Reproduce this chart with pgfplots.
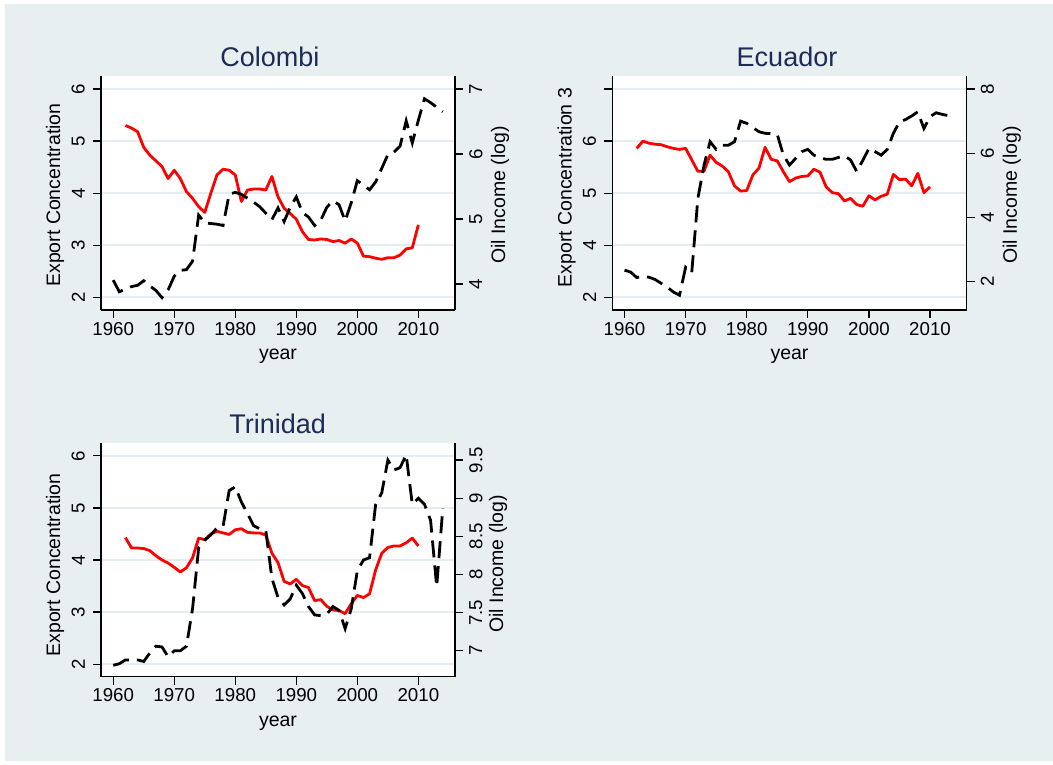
\documentclass[border=0pt]{standalone}
\usepackage{fontspec}
\setmainfont{Liberation Sans}
\usepackage{pgfplots}
\pgfplotsset{compat=1.18}
\definecolor{bgc}{RGB}{232,239,241}
\definecolor{gridc}{RGB}{229,237,240}
\definecolor{ttl}{RGB}{30,43,85}

\pgfplotsset{
  base/.style={scale only axis, width=354bp, height=234bp, xmin=1958, xmax=2016,
    /pgf/number format/assume math mode=true, /pgf/number format/1000 sep={},
    tick align=outside, major tick length=8bp, minor tick num=0,
    every tick/.style={black, line width=1.2bp},
    axis line style={black, line width=1.2bp, -},
    tick label style={font=\fontsize{18.7bp}{21bp}\selectfont},
    label style={font=\fontsize{19.5bp}{22bp}\selectfont}},
  lft/.style={base, axis x line*=bottom, axis y line*=left,
    axis background/.style={fill=white},
    ymajorgrids, major grid style={gridc, line width=2bp},
    xtick={1960,1970,...,2010}, xlabel={year},
    xlabel style={at={(axis description cs:0.5,0)}, anchor=base, yshift=-50bp},
    xticklabel style={anchor=north, inner sep=0pt, yshift=-4bp},
    yticklabel shift=8bp,
    yticklabel style={rotate=90, anchor=south, inner sep=0pt},
    title style={font=\fontsize{27bp}{30bp}\selectfont, text=ttl, anchor=base}},
  rgt/.style={base, axis x line=none, axis y line*=right, ylabel={Oil Income (log)},
    yticklabel shift=6bp,
    yticklabel style={rotate=90, anchor=north, inner sep=0pt}},
  redl/.style={red, line width=2.8bp, line join=round},
  blkl/.style={black, line width=2.8bp, dash pattern=on 17bp off 8bp}
}

\begin{document}
\begin{tikzpicture}
\fill[white] (0,0) rectangle (1053bp,765bp);
\fill[bgc] (5bp,4bp) rectangle (1053bp,761bp);

% Colombi
\begin{axis}[lft, at={(101bp,455bp)}, anchor=south west,
  ymin=1.756, ymax=6.25, ytick={2,3,4,5,6},
  ylabel={Export Concentration},
  ylabel style={at={(axis description cs:-0.130,0.491)}, anchor=center},
  title={Colombi}, title style={at={(axis description cs:0.477,1)}, yshift=3.3bp}]
\addplot[redl] coordinates {(1962,5.30)(1963,5.25)(1964,5.18)(1965,4.88)(1966,4.73)(1967,4.62)(1968,4.51)(1969,4.28)(1970,4.44)(1971,4.28)(1972,4.03)(1973,3.90)(1974,3.74)(1975,3.63)(1976,4.00)(1977,4.35)(1978,4.46)(1979,4.44)(1980,4.35)(1981,3.84)(1982,4.06)(1983,4.08)(1984,4.08)(1985,4.06)(1986,4.32)(1987,3.93)(1988,3.71)(1989,3.61)(1990,3.50)(1991,3.26)(1992,3.11)(1993,3.10)(1994,3.12)(1995,3.11)(1996,3.07)(1997,3.09)(1998,3.04)(1999,3.12)(2000,3.04)(2001,2.79)(2002,2.78)(2003,2.75)(2004,2.73)(2005,2.76)(2006,2.76)(2007,2.81)(2008,2.93)(2009,2.95)(2010,3.39)};
\end{axis}
\begin{axis}[rgt, at={(101bp,455bp)}, anchor=south west,
  ymin=3.6, ymax=7.2, ytick={4,5,6,7},
  ylabel style={at={(axis description cs:1.127,0.492)}, anchor=center}]
\addplot[blkl] coordinates {(1960,4.06)(1961,3.88)(1962,3.92)(1963,3.96)(1964,3.98)(1965,4.05)(1966,3.97)(1967,3.90)(1968,3.79)(1969,3.91)(1970,4.12)(1971,4.21)(1972,4.22)(1973,4.35)(1974,5.06)(1975,4.94)(1976,4.93)(1977,4.92)(1978,4.90)(1979,5.38)(1980,5.41)(1981,5.38)(1982,5.32)(1983,5.26)(1984,5.19)(1985,5.09)(1986,4.99)(1987,5.17)(1988,4.96)(1989,5.18)(1990,5.34)(1991,5.10)(1992,5.03)(1993,4.90)(1994,4.98)(1995,5.18)(1996,5.28)(1997,5.22)(1998,4.97)(1999,5.25)(2000,5.59)(2001,5.52)(2002,5.45)(2003,5.57)(2004,5.78)(2005,5.99)(2006,6.03)(2007,6.12)(2008,6.51)(2009,6.17)(2010,6.52)(2011,6.85)(2012,6.79)(2013,6.72)(2014,6.65)};
\end{axis}

% Ecuador
\begin{axis}[lft, at={(612.3bp,455bp)}, anchor=south west, width=354.4bp,
  ymin=2.756, ymax=7.25, ytick={3,4,5,6,7}, yticklabels={2,4,5,6,{}},
  ylabel={Export Concentration 3},
  ylabel style={at={(axis description cs:-0.129,0.523)}, anchor=center},
  title={Ecuador}, title style={at={(axis description cs:0.493,1)}, yshift=3.3bp}]
\addplot[redl] coordinates {(1962,5.86)(1963,6.00)(1964,5.96)(1965,5.94)(1966,5.93)(1967,5.89)(1968,5.86)(1969,5.84)(1970,5.86)(1971,5.64)(1972,5.42)(1973,5.42)(1974,5.73)(1975,5.59)(1976,5.52)(1977,5.41)(1978,5.14)(1979,5.04)(1980,5.05)(1981,5.35)(1982,5.48)(1983,5.88)(1984,5.65)(1985,5.62)(1986,5.41)(1987,5.22)(1988,5.29)(1989,5.32)(1990,5.33)(1991,5.46)(1992,5.40)(1993,5.12)(1994,5.01)(1995,4.99)(1996,4.85)(1997,4.90)(1998,4.78)(1999,4.75)(2000,4.95)(2001,4.87)(2002,4.94)(2003,4.98)(2004,5.36)(2005,5.26)(2006,5.27)(2007,5.14)(2008,5.38)(2009,5.01)(2010,5.12)};
\end{axis}
\begin{axis}[rgt, at={(612.3bp,455bp)}, anchor=south west, width=354.4bp,
  ymin=1.12, ymax=8.405, ytick={2,4,6,8},
  ylabel style={at={(axis description cs:1.127,0.492)}, anchor=center}]
\addplot[blkl] coordinates {(1960,2.36)(1961,2.30)(1962,2.13)(1963,2.17)(1964,2.14)(1965,2.07)(1966,1.95)(1967,1.83)(1968,1.68)(1969,1.58)(1970,2.45)(1971,2.28)(1972,4.59)(1973,5.62)(1974,6.36)(1975,6.12)(1976,6.25)(1977,6.25)(1978,6.36)(1979,7.00)(1980,6.93)(1981,6.80)(1982,6.67)(1983,6.62)(1984,6.61)(1985,6.58)(1986,5.94)(1987,5.63)(1988,5.84)(1989,6.05)(1990,6.12)(1991,5.94)(1992,5.86)(1993,5.81)(1994,5.81)(1995,5.87)(1996,5.92)(1997,5.79)(1998,5.43)(1999,5.78)(2000,6.15)(2001,6.05)(2002,5.94)(2003,6.12)(2004,6.62)(2005,6.98)(2006,7.05)(2007,7.16)(2008,7.29)(2009,6.77)(2010,7.14)(2011,7.26)(2012,7.21)(2013,7.17)(2014,7.14)};
\end{axis}

% Trinidad
\begin{axis}[lft, at={(101bp,88.3bp)}, anchor=south west, height=233.4bp,
  ymin=1.76, ymax=6.24, ytick={2,3,4,5,6},
  ylabel={Export Concentration},
  ylabel style={at={(axis description cs:-0.130,0.479)}, anchor=center},
  title={Trinidad}, title style={at={(axis description cs:0.499,1)}, yshift=4bp}]
\addplot[redl] coordinates {(1962,4.43)(1963,4.23)(1964,4.23)(1965,4.22)(1966,4.18)(1967,4.08)(1968,4.00)(1969,3.94)(1970,3.86)(1971,3.77)(1972,3.85)(1973,4.04)(1974,4.42)(1975,4.39)(1976,4.50)(1977,4.55)(1978,4.52)(1979,4.49)(1980,4.58)(1981,4.60)(1982,4.53)(1983,4.52)(1984,4.52)(1985,4.48)(1986,4.13)(1987,3.95)(1988,3.59)(1989,3.54)(1990,3.63)(1991,3.51)(1992,3.47)(1993,3.22)(1994,3.24)(1995,3.11)(1996,3.04)(1997,3.03)(1998,2.97)(1999,3.16)(2000,3.32)(2001,3.28)(2002,3.35)(2003,3.81)(2004,4.13)(2005,4.24)(2006,4.27)(2007,4.27)(2008,4.33)(2009,4.42)(2010,4.27)};
\end{axis}
\begin{axis}[rgt, at={(101bp,88.3bp)}, anchor=south west, height=233.4bp,
  ymin=6.66, ymax=9.72, ytick={7,7.5,8,8.5,9,9.5},
  ylabel style={at={(axis description cs:1.122,0.484)}, anchor=center}]
\addplot[blkl] coordinates {(1960,6.81)(1961,6.83)(1962,6.88)(1963,6.88)(1964,6.88)(1965,6.86)(1966,6.97)(1967,7.06)(1968,7.05)(1969,6.92)(1970,7.00)(1971,7.00)(1972,7.06)(1973,7.55)(1974,8.35)(1975,8.45)(1976,8.52)(1977,8.61)(1978,8.63)(1979,9.10)(1980,9.15)(1981,8.95)(1982,8.80)(1983,8.64)(1984,8.60)(1985,8.58)(1986,7.95)(1987,7.70)(1988,7.60)(1989,7.68)(1990,7.86)(1991,7.75)(1992,7.58)(1993,7.47)(1994,7.46)(1995,7.48)(1996,7.58)(1997,7.53)(1998,7.29)(1999,7.55)(2000,8.05)(2001,8.19)(2002,8.22)(2003,8.92)(2004,9.07)(2005,9.50)(2006,9.37)(2007,9.40)(2008,9.57)(2009,8.92)(2010,9.00)(2011,8.92)(2012,8.71)(2013,7.84)(2014,8.87)};
\end{axis}
\end{tikzpicture}
\end{document}
